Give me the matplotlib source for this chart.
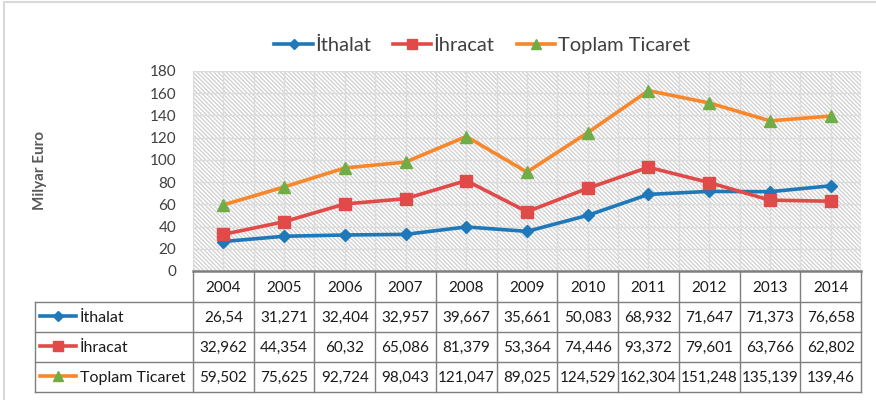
import matplotlib.pyplot as plt
from matplotlib.lines import Line2D

plt.rcParams['font.family'] = ['Lato', 'DejaVu Sans']
plt.rcParams['hatch.linewidth'] = 0.9

# data
years = ['2004', '2005', '2006', '2007', '2008', '2009', '2010', '2011', '2012', '2013', '2014']
ithalat = [26.54, 31.271, 32.404, 32.957, 39.667, 35.661, 50.083, 68.932, 71.647, 71.373, 76.658]
ihracat = [32.962, 44.354, 60.32, 65.086, 81.379, 53.364, 74.446, 93.372, 79.601, 63.766, 62.802]
toplam = [59.502, 75.625, 92.724, 98.043, 121.047, 89.025, 124.529, 162.304, 151.248, 135.139, 139.46]
names = ['İthalat', 'İhracat', 'Toplam Ticaret']

colors = ['#1f78b8', '#e04a48', '#f7872a']
marker_colors = ['#1f78b8', '#e04a48', '#70ad47']
markers = ['D', 's', '^']
msizes = [6.5, 8.5, 8.5]
series = [ithalat, ihracat, toplam]


def fmt(v):
    s = ('%.3f' % v).rstrip('0').rstrip('.')
    return s.replace('.', ',')


W, H = 876, 400
fig = plt.figure(figsize=(W / 100, H / 100), dpi=100)

# pixel layout
pl, pr, pt, pb = 193, 861, 71, 271
ax = fig.add_axes([pl / W, 1 - pb / H, (pr - pl) / W, (pb - pt) / H])
ax.set_facecolor('white')
n = len(years)
ax.set_xlim(-0.5, n - 0.5)
ax.set_ylim(0, 180)
ax.add_patch(plt.Rectangle((-0.5, 0), n, 180, facecolor='white', edgecolor='#cfcfcf',
                           linewidth=0, hatch='\\\\\\\\\\\\\\\\', zorder=0))
for y in range(20, 181, 20):
    ax.axhline(y, color='#dcdcdc', lw=1.0, zorder=1)
for k in range(2 * n + 1):
    ax.axvline(-0.5 + k * 0.5, color='#dcdcdc', lw=1.0, zorder=1)
for s, c, mc, m, ms in zip(series, colors, marker_colors, markers, msizes):
    ax.plot(range(n), s, color=c, lw=2.6, marker=m, markersize=ms,
            markerfacecolor=mc, markeredgecolor=mc, zorder=3)
ax.set_xticks([])
ax.set_yticks(range(0, 181, 20))
ax.tick_params(axis='y', length=0, labelsize=11, labelcolor='#404040', pad=12)
for sp in ax.spines.values():
    sp.set_visible(False)
ax.text(-0.229, 0.5, 'Milyar Euro', transform=ax.transAxes, rotation=90,
        ha='center', va='center', fontsize=11, fontweight='bold', color='#595959')

# overlay in pixel coordinates for frame, table and legend
ov = fig.add_axes([0, 0, 1, 1], facecolor='none')
ov.set_xlim(0, W)
ov.set_ylim(H, 0)
ov.axis('off')

ov.plot([4, 4], [2, H], color='#d9d9d9', lw=1.5)
ov.plot([4, W], [2, 2], color='#d9d9d9', lw=1.5)

grid_c = '#7f7f7f'
tl = 35
cw = (pr - pl) / n
rows = [272, 302, 332, 362, 392]
# header
ov.plot([pl, pr], [pb, pb], color='#7f7f7f', lw=1.8)
for i in range(n + 1):
    x = pl + i * cw
    ov.plot([x, x], [rows[0], rows[-1]], color=grid_c, lw=1)
for r in rows[1:]:
    ov.plot([tl, pr], [r, r], color=grid_c, lw=1)
ov.plot([tl, tl], [rows[1], rows[-1]], color=grid_c, lw=1)
for i, yr in enumerate(years):
    ov.text(pl + (i + 0.5) * cw, (rows[0] + rows[1]) / 2 + 1, yr, ha='center', va='center',
            fontsize=11, color='#1a1a1a')
for j, (s, nm) in enumerate(zip(series, names)):
    yc = (rows[j + 1] + rows[j + 2]) / 2 + 1
    ov.plot([40, 76], [yc - 2, yc - 2], color=colors[j], lw=2.6)
    ov.plot([58], [yc - 2], marker=markers[j], color=marker_colors[j], markersize=msizes[j] - 1)
    ov.text(80, yc, nm, ha='left', va='center', fontsize=11.5, color='#1a1a1a')
    for i, v in enumerate(s):
        ov.text(pl + (i + 0.5) * cw, yc, fmt(v), ha='center', va='center',
                fontsize=11, color='#1a1a1a')

# legend
handles = [Line2D([], [], color=c, lw=2.6, marker=m, markersize=ms - 1,
                  markerfacecolor=mc, markeredgecolor=mc)
           for c, mc, m, ms in zip(colors, marker_colors, markers, msizes)]
fig.legend(handles, names, loc='center', bbox_to_anchor=(482 / W, 1 - 45 / H), ncol=3,
           frameon=False, fontsize=14.5, handlelength=1.9, handletextpad=0.12,
           columnspacing=1.1, labelcolor='#404040')

fig.savefig('out.png', dpi=100)
